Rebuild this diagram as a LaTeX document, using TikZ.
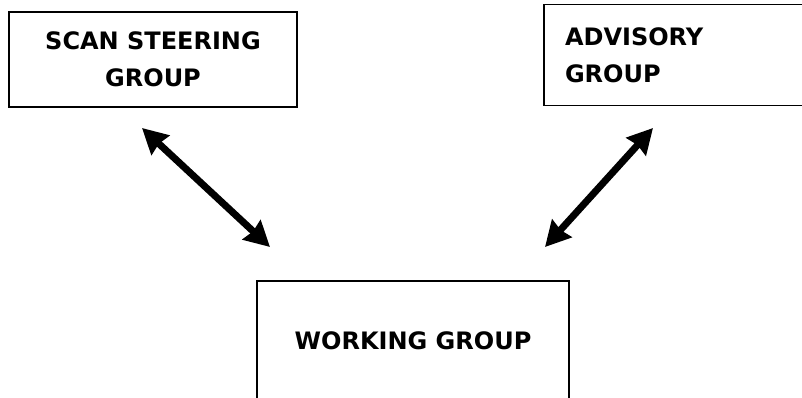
\documentclass[tikz,border=0pt]{standalone}
\usepackage{fontspec}
\setmainfont{DejaVu Sans}
\usetikzlibrary{arrows.meta}

\tikzset{
  groupbox/.style={draw,line width=1.6pt,inner sep=0pt,font=\bfseries\fontsize{24}{37}\selectfont},
  link/.style={line width=7pt,{Stealth[length=25pt,width=26pt,inset=2pt]}-{Stealth[length=25pt,width=26pt,inset=2pt]}}
}

\begin{document}
\begin{tikzpicture}[x=1pt,y=-1pt]
  \useasboundingbox (0,0) rectangle (802,398);
  \node[groupbox,minimum width=288pt,minimum height=95pt,align=center] (scan) at (153,59.5) {SCAN STEERING\\GROUP};
  \node[groupbox,minimum width=270pt,minimum height=101pt,text width=228pt,align=left] (adv) at (679,55) {ADVISORY\\GROUP};
  \node[groupbox,minimum width=312pt,minimum height=120pt,align=center] (work) at (413,341) {WORKING GROUP};
  \coordinate (scanend) at (142,128);
  \coordinate (workleft) at (270,247);
  \coordinate (advend) at (653,128);
  \coordinate (workright) at (545,247);
  \draw[link] (scanend) -- (workleft);
  \draw[link] (advend) -- (workright);
\end{tikzpicture}
\end{document}
